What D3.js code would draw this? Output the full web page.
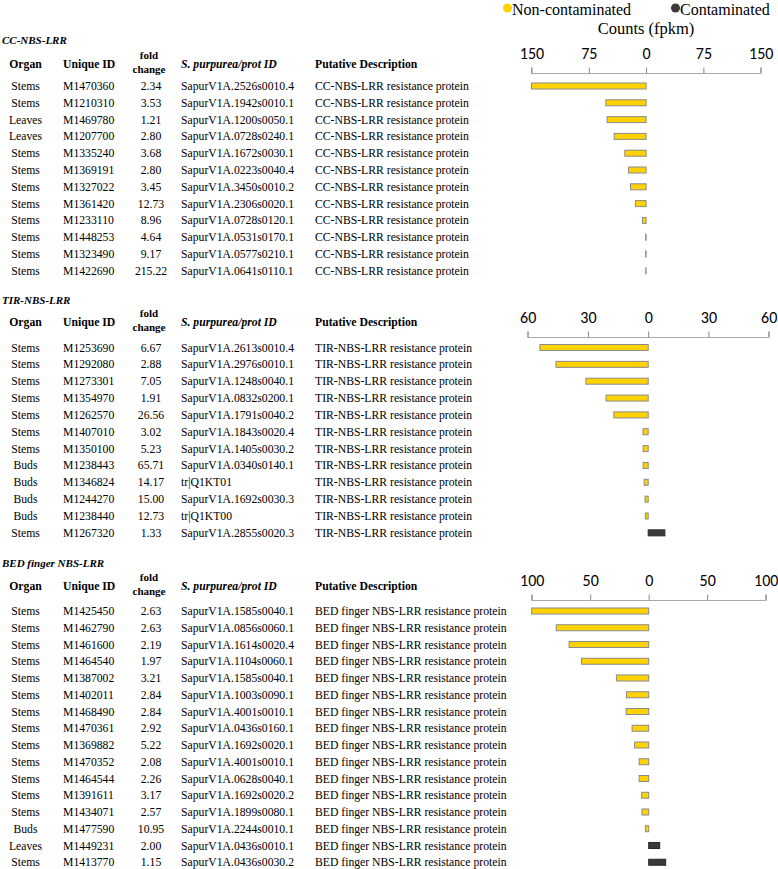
<!DOCTYPE html>
<html><head><meta charset="utf-8">
<script src="https://cdn.jsdelivr.net/npm/d3@7"></script>
<style>body{margin:0;background:#fff}svg{display:block}</style>
</head><body>
<script>
// ---- data ----
const ccTitle = "CC-NBS-LRR";
const ccOrgan = ["Stems","Stems","Leaves","Leaves","Stems","Stems","Stems","Stems","Stems","Stems","Stems","Stems"];
const ccId = ["M1470360","M1210310","M1469780","M1207700","M1335240","M1369191","M1327022","M1361420","M1233110","M1448253","M1323490","M1422690"];
const ccFold = ["2.34","3.53","1.21","2.80","3.68","2.80","3.45","12.73","8.96","4.64","9.17","215.22"];
const ccProt = ["SapurV1A.2526s0010.4","SapurV1A.1942s0010.1","SapurV1A.1200s0050.1","SapurV1A.0728s0240.1","SapurV1A.1672s0030.1","SapurV1A.0223s0040.4","SapurV1A.3450s0010.2","SapurV1A.2306s0020.1","SapurV1A.0728s0120.1","SapurV1A.0531s0170.1","SapurV1A.0577s0210.1","SapurV1A.0641s0110.1"];
const ccNon = [150, 52.7, 51, 41.8, 27.8, 23, 20.4, 13.9, 4.7, 0.6, 0.6, 0.5];
const ccCon = [0,0,0,0,0,0,0,0,0,0,0,0];
const ccTicks = [-150,-75,0,75,150];

const tirTitle = "TIR-NBS-LRR";
const tirOrgan = ["Stems","Stems","Stems","Stems","Stems","Stems","Stems","Buds","Buds","Buds","Buds","Stems"];
const tirId = ["M1253690","M1292080","M1273301","M1354970","M1262570","M1407010","M1350100","M1238443","M1346824","M1244270","M1238440","M1267320"];
const tirFold = ["6.67","2.88","7.05","1.91","26.56","3.02","5.23","65.71","14.17","15.00","12.73","1.33"];
const tirProt = ["SapurV1A.2613s0010.4","SapurV1A.2976s0010.1","SapurV1A.1248s0040.1","SapurV1A.0832s0200.1","SapurV1A.1791s0040.2","SapurV1A.1843s0020.4","SapurV1A.1405s0030.2","SapurV1A.0340s0140.1","tr|Q1KT01","SapurV1A.1692s0030.3","tr|Q1KT00","SapurV1A.2855s0020.3"];
const tirNon = [53.9, 45.9, 31, 21, 17.1, 2.6, 2.5, 2.5, 2, 1.6, 1.4, 0];
const tirCon = [0,0,0,0,0,0,0,0,0,0,0,8.3];
const tirTicks = [-60,-30,0,30,60];

const bedTitle = "BED finger NBS-LRR";
const bedOrgan = ["Stems","Stems","Stems","Stems","Stems","Stems","Stems","Stems","Stems","Stems","Stems","Stems","Stems","Buds","Leaves","Stems"];
const bedId = ["M1425450","M1462790","M1461600","M1464540","M1387002","M1402011","M1468490","M1470361","M1369882","M1470352","M1464544","M1391611","M1434071","M1477590","M1449231","M1413770"];
const bedFold = ["2.63","2.63","2.19","1.97","3.21","2.84","2.84","2.92","5.22","2.08","2.26","3.17","2.57","10.95","2.00","1.15"];
const bedProt = ["SapurV1A.1585s0040.1","SapurV1A.0856s0060.1","SapurV1A.1614s0020.4","SapurV1A.1104s0060.1","SapurV1A.1585s0040.1","SapurV1A.1003s0090.1","SapurV1A.4001s0010.1","SapurV1A.0436s0160.1","SapurV1A.1692s0020.1","SapurV1A.4001s0010.1","SapurV1A.0628s0040.1","SapurV1A.1692s0020.2","SapurV1A.1899s0080.1","SapurV1A.2244s0010.1","SapurV1A.0436s0010.1","SapurV1A.0436s0030.2"];
const bedNon = [100, 79, 68, 57.4, 27.6, 19, 19.3, 14.2, 12, 8.2, 8.2, 6, 5.7, 2.8, 0, 0];
const bedCon = [0,0,0,0,0,0,0,0,0,0,0,0,0,0,9.4,14.5];
const bedTicks = [-100,-50,0,50,100];

const ccDesc = "CC-NBS-LRR resistance protein";
const tirDesc = "TIR-NBS-LRR resistance protein";
const bedDesc = "BED finger NBS-LRR resistance protein";
const legendLabels = ["Non-contaminated","Contaminated"];
const axisTitle = "Counts (fpkm)";

// ---- drawing ----
const W = 778, H = 869;
const svg = d3.select("body").append("svg").attr("width", W).attr("height", H);
const serif = "'Liberation Serif','Times New Roman',serif";
const sans = "Carlito,Lato,'Open Sans',sans-serif";
const YEL = "#FFD200", DARK = "#3a3a3a";
const FS = 11.7;

// legend
const leg = svg.append("g");
leg.append("circle").attr("cx", 507.5).attr("cy", 8).attr("r", 4.5).attr("fill", YEL);
leg.append("text").attr("x", 512).attr("y", 14.5).text(legendLabels[0]).attr("font-family", serif).attr("font-size", 16);
leg.append("circle").attr("cx", 675.5).attr("cy", 8).attr("r", 4.5).attr("fill", DARK);
leg.append("text").attr("x", 680).attr("y", 14.5).text(legendLabels[1]).attr("font-family", serif).attr("font-size", 16);
svg.append("text").attr("x", 646).attr("y", 34).attr("text-anchor", "middle").text(axisTitle)
  .attr("font-family", serif).attr("font-size", 16.5);

function section(cfg) {
  const g = svg.append("g");
  const n = cfg.id.length;
  g.append("text").attr("x", 2).attr("y", cfg.titleY).text(cfg.title)
    .attr("font-family", serif).attr("font-size", 11).attr("font-weight", "bold").attr("font-style", "italic");
  const hy = cfg.headY;
  const hdr = g.append("g").attr("font-family", serif).attr("font-size", FS).attr("font-weight", "bold");
  hdr.append("text").attr("x", 25.5).attr("y", hy + 4).attr("text-anchor", "middle").text("Organ");
  hdr.append("text").attr("x", 63).attr("y", hy + 4).text("Unique ID");
  hdr.append("text").attr("x", 149).attr("y", hy - 5).attr("text-anchor", "middle").attr("font-size", 11).text("fold");
  hdr.append("text").attr("x", 149).attr("y", hy + 9).attr("text-anchor", "middle").attr("font-size", 11).text("change");
  hdr.append("text").attr("x", 181).attr("y", hy + 4).attr("font-style", "italic").text("S. purpurea/prot ID");
  hdr.append("text").attr("x", 315).attr("y", hy + 4).text("Putative Description");

  const y = d3.scalePoint().domain(d3.range(n)).range([cfg.row0, cfg.row0 + cfg.step * (n - 1)]);
  const rows = g.append("g").attr("font-family", serif).attr("font-size", FS);
  const idx = d3.range(n);
  rows.selectAll(".o").data(idx).join("text").attr("x", 25.5).attr("y", i => y(i) + 4).attr("text-anchor", "middle").text(i => cfg.organ[i]);
  rows.selectAll(".u").data(idx).join("text").attr("x", 63).attr("y", i => y(i) + 4).text(i => cfg.id[i]);
  rows.selectAll(".f").data(idx).join("text").attr("x", 151).attr("y", i => y(i) + 4).attr("text-anchor", "middle").text(i => cfg.fold[i]);
  rows.selectAll(".p").data(idx).join("text").attr("x", 181).attr("y", i => y(i) + 4).text(i => cfg.prot[i]);
  rows.selectAll(".d").data(idx).join("text").attr("x", 315).attr("y", i => y(i) + 4).text(() => cfg.desc);

  const x = d3.scaleLinear().domain([cfg.ticks[0], cfg.ticks[cfg.ticks.length - 1]]).range(cfg.xr);
  const ax = g.append("g").attr("transform", `translate(0,${cfg.axisY})`)
    .call(d3.axisTop(x).tickValues(cfg.ticks).tickSize(6).tickPadding(9).tickFormat(d => Math.abs(d)));
  ax.select(".domain").attr("stroke", "#aaa").attr("d", `M${cfg.xr[0]},-6V0H${cfg.xr[1]}V-6`);
  ax.selectAll(".tick line").attr("stroke", "#888");
  ax.selectAll(".tick text").attr("font-family", sans).attr("font-size", 16).attr("fill", "#000");

  const bh = 6;
  g.selectAll(".bn").data(idx.filter(i => cfg.non[i] > 0)).join("rect")
    .attr("x", i => x(-cfg.non[i])).attr("width", i => x(0) - x(-cfg.non[i]))
    .attr("y", i => y(i) - bh / 2).attr("height", bh)
    .attr("fill", YEL).attr("stroke", "#8a8a8a").attr("stroke-width", 1);
  g.selectAll(".bc").data(idx.filter(i => cfg.con[i] > 0)).join("rect")
    .attr("x", x(0)).attr("width", i => x(cfg.con[i]) - x(0))
    .attr("y", i => y(i) - bh / 2).attr("height", bh)
    .attr("fill", DARK).attr("stroke", "#2a2a2a").attr("stroke-width", 1);
}

section({title: ccTitle, titleY: 44, headY: 64, row0: 86, step: 16.8,
  organ: ccOrgan, id: ccId, fold: ccFold, prot: ccProt, desc: ccDesc, non: ccNon, con: ccCon,
  ticks: ccTicks, xr: [531.5, 760.7], axisY: 73.5});
section({title: tirTitle, titleY: 304, headY: 322, row0: 347.5, step: 16.85,
  organ: tirOrgan, id: tirId, fold: tirFold, prot: tirProt, desc: tirDesc, non: tirNon, con: tirCon,
  ticks: tirTicks, xr: [527.7, 768.7], axisY: 337.5});
section({title: bedTitle, titleY: 567, headY: 586, row0: 611, step: 16.75,
  organ: bedOrgan, id: bedId, fold: bedFold, prot: bedProt, desc: bedDesc, non: bedNon, con: bedCon,
  ticks: bedTicks, xr: [531.7, 765.7], axisY: 600.5});
</script>
</body></html>
